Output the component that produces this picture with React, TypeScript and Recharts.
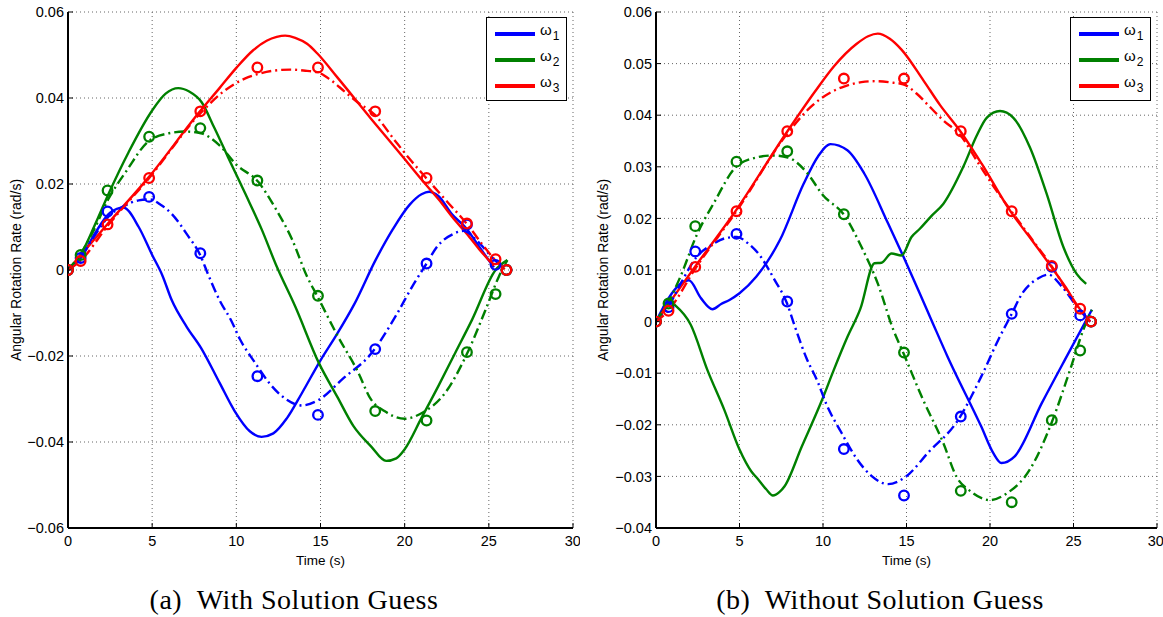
import React from 'react';
import { ComposedChart, Line, XAxis, YAxis, CartesianGrid } from 'recharts';

// ---------- data ----------
const xTicks = [0, 5, 10, 15, 20, 25, 30];
const yTicksA = [-0.06, -0.04, -0.02, 0, 0.02, 0.04, 0.06];
const yTicksB = [-0.04, -0.03, -0.02, -0.01, 0, 0.01, 0.02, 0.03, 0.04, 0.05, 0.06];

// circle markers (same in both panels)
const circleT = [0, 0.75, 2.35, 4.82, 7.86, 11.25, 14.85, 18.25, 21.3, 23.7, 25.4, 26.05];
const circleW1 = [0, 0.0028, 0.0136, 0.017, 0.0039, -0.0247, -0.0337, -0.0184, 0.0015, 0.0106, 0.0012, 0];
const circleW2 = [0, 0.0035, 0.0185, 0.031, 0.033, 0.0208, -0.006, -0.0328, -0.035, -0.0191, -0.0056, 0];
const circleW3 = [0, 0.0021, 0.0106, 0.0214, 0.0369, 0.0471, 0.0471, 0.0369, 0.0214, 0.0108, 0.0025, 0];

// dash-dot reference curves (same in both panels)
const refW1T = [0, 0.7, 1.5, 2.4, 3.4, 4.2, 4.85, 5.5, 6.15, 7.1, 7.85, 8.3, 9.0, 9.7, 10.2, 11.1, 12.0, 12.9, 13.9, 14.9, 16.35, 18.0, 19.5, 20.5, 21.3, 21.9, 22.9, 23.5, 24.3, 25.3, 26.0];
const refW1V = [0, 0.0027, 0.0075, 0.0124, 0.015, 0.0162, 0.0164, 0.0152, 0.0131, 0.0081, 0.0035, -0.0008, -0.007, -0.0118, -0.016, -0.0215, -0.0265, -0.0299, -0.0315, -0.0302, -0.0252, -0.0195, -0.0105, -0.0035, 0.0015, 0.0053, 0.0084, 0.0091, 0.0068, 0.0025, 0];

const refW2T = [0, 0.7, 1.5, 2.4, 3.5, 4.8, 6.0, 7.0, 7.9, 9.0, 10.0, 11.3, 12.3, 13.3, 14.2, 14.8, 16.0, 17.2, 18.0, 18.8, 20.0, 21.0, 22.4, 23.7, 24.8, 25.6, 26.1];
const refW2V = [0, 0.0035, 0.009, 0.0165, 0.0232, 0.030, 0.0318, 0.0322, 0.0318, 0.029, 0.0245, 0.0205, 0.0145, 0.0072, -0.0015, -0.006, -0.0152, -0.0235, -0.0301, -0.0328, -0.0346, -0.0333, -0.0286, -0.0195, -0.0093, -0.0015, 0.0023];

const refW3T = [0, 0.7, 2.4, 4.8, 7.9, 9.3, 10.5, 11.3, 12.3, 13.2, 14.2, 14.8, 15.6, 16.4, 17.2, 18.2, 19.4, 20.3, 21.3, 22.5, 23.7, 24.7, 25.4, 26.0];
const refW3V = [0, 0.002, 0.0105, 0.0213, 0.0366, 0.0417, 0.0445, 0.0456, 0.0464, 0.0466, 0.0463, 0.046, 0.0442, 0.0416, 0.039, 0.0362, 0.0302, 0.0258, 0.0213, 0.016, 0.0107, 0.0055, 0.0022, 0];

// (a) With Solution Guess — solid curves
const aW1T = [0, 0.8, 1.6, 2.5, 3.3, 4.2, 5.0, 5.6, 6.16, 7.05, 7.9, 9.0, 9.9, 10.8, 11.5, 12.2, 13.0, 13.9, 15.0, 15.95, 17.0, 18.27, 19.3, 20.3, 21.0, 21.45, 22.0, 22.8, 23.7, 24.5, 25.3];
const aW1V = [0, 0.003, 0.0085, 0.0133, 0.0145, 0.010, 0.0035, -0.0012, -0.007, -0.0132, -0.0181, -0.0262, -0.0328, -0.0375, -0.0388, -0.038, -0.0345, -0.0286, -0.021, -0.0151, -0.008, 0.0023, 0.0095, 0.0152, 0.0176, 0.0182, 0.0172, 0.013, 0.0095, 0.005, 0.0006];

const aW2T = [0, 0.8, 1.6, 2.5, 3.6, 5.0, 5.8, 6.55, 7.2, 7.94, 8.7, 9.5, 10.5, 11.5, 12.4, 13.5, 14.9, 16.0, 16.96, 18.0, 18.9, 19.5, 20.0, 21.0, 22.0, 23.0, 24.0, 25.4, 26.1];
const aW2V = [0, 0.0039, 0.0105, 0.0185, 0.0274, 0.0371, 0.041, 0.0423, 0.0415, 0.039, 0.033, 0.0263, 0.018, 0.0095, 0.0008, -0.0085, -0.0216, -0.0295, -0.0363, -0.041, -0.0444, -0.0438, -0.0417, -0.0344, -0.027, -0.0193, -0.0116, 0, 0.0023];

const aW3T = [0, 2.35, 4.8, 7.84, 9.0, 10.0, 11.0, 11.8, 12.4, 12.9, 13.5, 14.2, 14.8, 16.0, 18.0, 20.0, 21.05, 22.0, 23.0, 23.7, 24.5, 25.3];
const aW3V = [0, 0.0107, 0.0216, 0.0369, 0.0423, 0.047, 0.0511, 0.0533, 0.0542, 0.0545, 0.054, 0.0526, 0.0504, 0.0448, 0.0352, 0.0258, 0.0208, 0.0165, 0.0115, 0.0084, 0.0045, 0.001];

// (b) Without Solution Guess — solid curves
const bW1T = [0, 0.56, 1.2, 1.97, 2.7, 3.38, 3.9, 4.4, 5.0, 6.0, 7.42, 8.84, 9.7, 10.45, 11.46, 12.47, 13.9, 14.8, 15.75, 16.6, 17.46, 19.47, 20.2, 20.68, 21.48, 23.1, 24.7, 26.1];
const bW1V = [0, 0.0035, 0.0065, 0.008, 0.0045, 0.0024, 0.0034, 0.0042, 0.0055, 0.0087, 0.0158, 0.0267, 0.032, 0.0344, 0.0332, 0.0287, 0.019, 0.0127, 0.0058, -0.0005, -0.0068, -0.0203, -0.0255, -0.0274, -0.0261, -0.0158, -0.0061, 0.0023];

const bW2T = [0, 0.4, 0.9, 1.2, 2.08, 3.08, 4.09, 5.0, 5.7, 6.1, 6.6, 7.0, 7.4, 7.7, 8.73, 9.94, 10.63, 11.46, 12.24, 13.08, 13.5, 14.1, 14.7, 15.3, 15.8, 16.5, 17.2, 18.4, 19.2, 19.8, 20.6, 21.4, 22.4, 23.4, 24.4, 25.2, 25.76];
const bW2V = [0, 0.002, 0.0037, 0.003, -0.0006, -0.0094, -0.0171, -0.0248, -0.029, -0.0305, -0.0325, -0.0337, -0.033, -0.0319, -0.0242, -0.0152, -0.0095, -0.003, 0.0025, 0.0113, 0.0114, 0.0132, 0.0128, 0.0164, 0.018, 0.0205, 0.0228, 0.030, 0.036, 0.0395, 0.0408, 0.0395, 0.0337, 0.0247, 0.0144, 0.0092, 0.0073];

const bW3T = [0, 2.35, 4.8, 7.83, 9.5, 10.66, 12.0, 12.7, 13.28, 14.0, 14.7, 16.0, 17.0, 18.2, 19.5, 21.2, 22.5, 23.7, 24.5, 25.3, 26.0];
const bW3V = [0, 0.0107, 0.0216, 0.0367, 0.0445, 0.0495, 0.0538, 0.0553, 0.0558, 0.0548, 0.0527, 0.0468, 0.042, 0.037, 0.0306, 0.0215, 0.0158, 0.0105, 0.0068, 0.0028, 0];

// ---------- helpers ----------
const BLUE = '#0000ff';
const GREEN = '#008000';
const RED = '#ff0000';
const FONT = '"Liberation Sans", Arial, Helvetica, sans-serif';

type Pt = { t: number; v: number };
const zip = (ts: number[], vs: number[]): Pt[] => ts.map((t, i) => ({ t, v: vs[i] }));

const fmt = (v: number) => {
  if (Math.abs(v) < 1e-9) return '0';
  return (v < 0 ? '\u2212' : '') + Math.abs(v).toFixed(2);
};

const DASHDOT = '10 4 2 4';

const Circle = (props: any) => {
  const { cx, cy, stroke } = props;
  if (cx == null || cy == null) return null;
  return <circle cx={cx} cy={cy} r={4.8} fill="none" stroke={stroke} strokeWidth={2.3} />;
};

type PanelProps = {
  left: number;
  width: number;
  yAxisWidth: number;
  marginRight: number;
  yDomain: [number, number];
  yTicks: number[];
  solid: [Pt[], Pt[], Pt[]];
  caption: string;
  captionCenter: number;
  yLabelX: number;
  legendLeft: number;
};

const Legend = ({ left }: { left: number }) => {
  const rows = [
    { c: BLUE, s: '1' },
    { c: GREEN, s: '2' },
    { c: RED, s: '3' },
  ];
  return (
    <div
      style={{
        position: 'absolute',
        left,
        top: 17,
        width: 81,
        height: 84,
        boxSizing: 'border-box',
        border: '1.5px solid #000',
        background: '#fff',
        fontFamily: FONT,
      }}
    >
      {rows.map((r, i) => (
        <div key={i} style={{ position: 'absolute', left: 0, top: 4 + i * 26, height: 24, width: 78 }}>
          <div style={{ position: 'absolute', left: 8, top: 10, width: 40, height: 3.5, background: r.c }} />
          <div style={{ position: 'absolute', left: 53, top: -1, fontSize: 15, lineHeight: '18px', color: '#000' }}>
            ω<span style={{ fontSize: 12, position: 'relative', top: 5, left: 1 }}>{r.s}</span>
          </div>
        </div>
      ))}
    </div>
  );
};

const Panel = (p: PanelProps) => {
  const H = 617;
  const refs: [Pt[], Pt[], Pt[]] = [zip(refW1T, refW1V), zip(refW2T, refW2V), zip(refW3T, refW3V)];
  const circles: [Pt[], Pt[], Pt[]] = [zip(circleT, circleW1), zip(circleT, circleW2), zip(circleT, circleW3)];
  const colors = [BLUE, GREEN, RED];
  const tickStyle = { fontFamily: FONT, fontSize: 14.5, fill: '#000' };
  return (
    <div style={{ position: 'absolute', left: p.left, top: 0, width: p.width, height: H }}>
      <ComposedChart
        width={p.width}
        height={H}
        margin={{ top: 12, right: p.marginRight, bottom: 49, left: 8 }}
      >
        <CartesianGrid xAxisId="b" yAxisId="l" stroke="#666" strokeDasharray="1 3" strokeWidth={1} />
        <XAxis
          xAxisId="b"
          dataKey="t"
          type="number"
          domain={[0, 30]}
          ticks={xTicks}
          allowDataOverflow
          height={40}
          tickSize={-5}
          tickMargin={13}
          tick={tickStyle}
          tickLine={{ stroke: '#000', strokeWidth: 1 }}
          axisLine={{ stroke: '#000', strokeWidth: 2 }}
          label={{ value: 'Time (s)', position: 'insideBottom', offset: 3, style: { fontFamily: FONT, fontSize: 13.5, fill: '#000' } }}
        />
        <XAxis
          xAxisId="t"
          orientation="top"
          dataKey="t"
          type="number"
          domain={[0, 30]}
          ticks={xTicks}
          allowDataOverflow
          height={0}
          tickSize={-5}
          tick={false}
          tickLine={{ stroke: '#000', strokeWidth: 1 }}
          axisLine={{ stroke: '#000', strokeWidth: 1.5 }}
        />
        <YAxis
          yAxisId="l"
          type="number"
          domain={p.yDomain}
          ticks={p.yTicks}
          allowDataOverflow
          width={p.yAxisWidth}
          tickSize={-5}
          tickMargin={9}
          tick={tickStyle}
          tickFormatter={fmt}
          tickLine={{ stroke: '#000', strokeWidth: 1 }}
          axisLine={{ stroke: '#000', strokeWidth: 2 }}
        />
        <YAxis
          yAxisId="r"
          orientation="right"
          type="number"
          domain={p.yDomain}
          ticks={p.yTicks}
          allowDataOverflow
          width={0}
          tickSize={-5}
          tick={false}
          tickLine={{ stroke: '#000', strokeWidth: 1 }}
          axisLine={{ stroke: '#000', strokeWidth: 1.5 }}
        />
        {p.solid.map((d, i) => (
          <Line
            key={'s' + i}
            xAxisId="b"
            yAxisId="l"
            data={d}
            dataKey="v"
            type="monotone"
            stroke={colors[i]}
            strokeWidth={2.4}
            dot={false}
            activeDot={false}
            isAnimationActive={false}
          />
        ))}
        {refs.map((d, i) => (
          <Line
            key={'r' + i}
            xAxisId="b"
            yAxisId="l"
            data={d}
            dataKey="v"
            type="monotone"
            stroke={colors[i]}
            strokeWidth={2.4}
            strokeDasharray={DASHDOT}
            dot={false}
            activeDot={false}
            isAnimationActive={false}
          />
        ))}
        {circles.map((d, i) => (
          <Line
            key={'c' + i}
            xAxisId="b"
            yAxisId="l"
            data={d}
            dataKey="v"
            stroke="none"
            dot={<Circle stroke={colors[i]} />}
            activeDot={false}
            isAnimationActive={false}
          />
        ))}
      </ComposedChart>
      <div
        style={{
          position: 'absolute',
          left: p.yLabelX - 150,
          top: 270 - 10,
          width: 300,
          height: 20,
          lineHeight: '20px',
          textAlign: 'center',
          transform: 'rotate(-90deg)',
          fontFamily: FONT,
          fontSize: 14,
          color: '#000',
        }}
      >
        Angular Rotation Rate (rad/s)
      </div>
      <div
        style={{
          position: 'absolute',
          left: p.captionCenter - 250,
          top: 584,
          width: 500,
          textAlign: 'center',
          whiteSpace: 'pre',
          fontFamily: '"Liberation Serif", "Times New Roman", serif',
          fontSize: 28,
          letterSpacing: 0.5,
          lineHeight: '32px',
          color: '#000',
        }}
      >
        {p.caption}
      </div>
      <Legend left={p.legendLeft} />
    </div>
  );
};

export default function App() {
  return (
    <div style={{ position: 'absolute', left: 0, top: 0, width: 1163, height: 617, background: '#fff', overflow: 'hidden' }}>
      <Panel
        left={0}
        width={580}
        yAxisWidth={60}
        marginRight={7}
        yDomain={[-0.06, 0.06]}
        yTicks={yTicksA}
        solid={[zip(aW1T, aW1V), zip(aW2T, aW2V), zip(aW3T, aW3V)]}
        caption="(a)  With Solution Guess"
        captionCenter={294}
        yLabelX={16}
        legendLeft={486}
      />
      <Panel
        left={580}
        width={583}
        yAxisWidth={68}
        marginRight={6}
        yDomain={[-0.04, 0.06]}
        yTicks={yTicksB}
        solid={[zip(bW1T, bW1V), zip(bW2T, bW2V), zip(bW3T, bW3V)]}
        caption="(b)  Without Solution Guess"
        captionCenter={300}
        yLabelX={23}
        legendLeft={490}
      />
    </div>
  );
}
